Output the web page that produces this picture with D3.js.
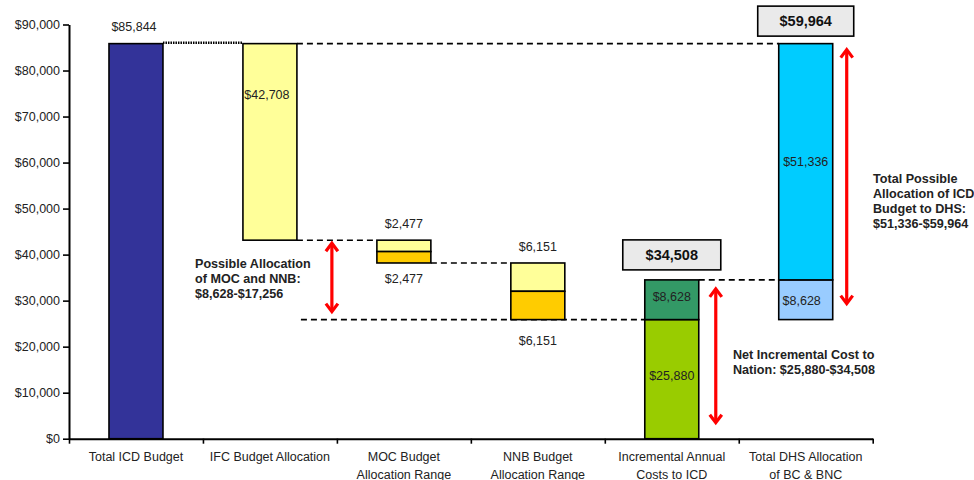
<!DOCTYPE html>
<html>
<head>
<meta charset="utf-8">
<script src="https://cdn.jsdelivr.net/npm/d3@7"></script>
<style>
  body { margin: 0; background: #fff; }
  svg text { font-family: Arial, "Liberation Sans", sans-serif; }
</style>
</head>
<body>
<svg id="chart" width="974" height="480"></svg>
<script>
// category labels (one entry per line)
var categories = [
  ["Total ICD Budget"],
  ["IFC Budget Allocation"],
  ["MOC Budget", "Allocation Range"],
  ["NNB Budget", "Allocation Range"],
  ["Incremental Annual", "Costs to ICD"],
  ["Total DHS Allocation", "of BC & BNC"]
];

var yTicks = [0, 10000, 20000, 30000, 40000, 50000, 60000, 70000, 80000, 90000];

// values
var icdBudget = 85844;
var ifcAllocation = 42708;
var mocRange = [2477, 2477];        // upper (light), lower (gold)
var nnbRange = [6151, 6151];
var incrementalCosts = [25880, 8628]; // base, increment
var dhsAllocation = [8628, 51336];    // lower, upper
var boxTotals = [34508, 59964];

var svg = d3.select("#chart");
var fmt = function(d) { return "$" + d3.format(",")(d); };

var y = d3.scaleLinear().domain([0, 90000]).range([438.7, 24.5]);
var x = d3.scaleBand()
    .domain(d3.range(categories.length))
    .range([69, 872.7])
    .paddingInner(0.597)
    .paddingOuter(0.2985);
var xEdge = d3.scaleLinear().domain([0, categories.length]).range([69, 872.7]);

// build the stacked segments of the waterfall
var ifcBase = icdBudget - ifcAllocation;
var mocBase = ifcBase - mocRange[0] - mocRange[1];
var nnbBase = mocBase - nnbRange[0] - nnbRange[1];
var segments = [
  { c: 0, lo: 0, hi: icdBudget, fill: "#333399" },
  { c: 1, lo: ifcBase, hi: icdBudget, fill: "#FFFF99" },
  { c: 2, lo: ifcBase - mocRange[0], hi: ifcBase, fill: "#FFFF99" },
  { c: 2, lo: mocBase, hi: ifcBase - mocRange[0], fill: "#FFCC00" },
  { c: 3, lo: mocBase - nnbRange[0], hi: mocBase, fill: "#FFFF99" },
  { c: 3, lo: nnbBase, hi: mocBase - nnbRange[0], fill: "#FFCC00" },
  { c: 4, lo: 0, hi: incrementalCosts[0], fill: "#99CC00" },
  { c: 4, lo: incrementalCosts[0], hi: incrementalCosts[0] + incrementalCosts[1], fill: "#339966" },
  { c: 5, lo: incrementalCosts[0], hi: incrementalCosts[0] + dhsAllocation[0], fill: "#99CCFF" },
  { c: 5, lo: incrementalCosts[0] + dhsAllocation[0], hi: icdBudget, fill: "#00CCFF" }
];

// dashed connectors (drawn under the bars)
var bw = x.bandwidth();
var connectors = [
  { v: icdBudget, x1: x(1) + bw, x2: x(5) },
  { v: ifcBase, x1: x(1) + bw, x2: x(2) },
  { v: mocBase, x1: x(2) + bw, x2: x(3) },
  { v: nnbBase, x1: x(1) + bw + 4, x2: x(4) },
  { v: incrementalCosts[0] + incrementalCosts[1], x1: x(4) + bw, x2: x(5) }
];
svg.append("g").selectAll("line")
  .data(connectors).enter().append("line")
    .attr("x1", function(d) { return d.x1; })
    .attr("x2", function(d) { return d.x2; })
    .attr("y1", function(d) { return y(d.v); })
    .attr("y2", function(d) { return y(d.v); })
    .attr("stroke", "#000")
    .attr("stroke-width", 1.6)
    .attr("stroke-dasharray", "6,4");

// dotted link between first two bars
svg.append("line")
    .attr("x1", x(0) + bw).attr("x2", x(1))
    .attr("y1", y(icdBudget) - 1).attr("y2", y(icdBudget) - 1)
    .attr("stroke", "#000").attr("stroke-width", 2.5)
    .attr("stroke-dasharray", "1.5,1");

svg.append("g").selectAll("rect")
  .data(segments).enter().append("rect")
    .attr("x", function(d) { return x(d.c); })
    .attr("width", bw)
    .attr("y", function(d) { return y(d.hi); })
    .attr("height", function(d) { return y(d.lo) - y(d.hi); })
    .attr("fill", function(d) { return d.fill; })
    .attr("stroke", "#000")
    .attr("stroke-width", 1.6);

// axes
var yAxis = svg.append("g")
    .attr("transform", "translate(69,0)")
    .call(d3.axisLeft(y).tickValues(yTicks).tickFormat(fmt).tickSize(6).tickSizeOuter(0).tickPadding(3));
var xAxis = svg.append("g")
    .attr("transform", "translate(0," + y(0) + ")")
    .call(d3.axisBottom(xEdge).tickValues(d3.range(categories.length + 1)).tickFormat("").tickSize(5).tickSizeOuter(0));
[yAxis, xAxis].forEach(function(a) {
  a.select(".domain").attr("stroke", "#000").attr("stroke-width", 2);
  a.selectAll(".tick line").attr("stroke", "#000").attr("stroke-width", 1.6);
});
yAxis.selectAll("text").attr("font-size", 12.5).attr("fill", "#222");

// category labels
var catG = svg.append("g").selectAll("text")
  .data(categories).enter().append("text")
    .attr("x", function(d, i) { return x(i) + bw / 2; })
    .attr("y", 461)
    .attr("text-anchor", "middle")
    .attr("font-size", 12.5)
    .attr("fill", "#222");
catG.selectAll("tspan")
  .data(function(d) { return d; }).enter().append("tspan")
    .attr("x", function() { return d3.select(this.parentNode).attr("x"); })
    .attr("dy", function(d, i) { return i === 0 ? 0 : 17.5; })
    .text(function(d) { return d; });

// value labels
var valueLabels = [
  { c: 0, v: icdBudget, dy: -13, t: icdBudget, dx: -2 },
  { c: 1, v: icdBudget, dy: 55, t: ifcAllocation, dx: -3 },
  { c: 2, v: ifcBase, dy: -12, t: mocRange[0] },
  { c: 2, v: mocBase, dy: 20, t: mocRange[1] },
  { c: 3, v: mocBase, dy: -12, t: nnbRange[0] },
  { c: 3, v: nnbBase, dy: 25, t: nnbRange[1] },
  { c: 4, v: incrementalCosts[0] + incrementalCosts[1] / 2, dy: 1, t: incrementalCosts[1] },
  { c: 4, v: incrementalCosts[0] / 2, dy: 1, t: incrementalCosts[0] },
  { c: 5, v: incrementalCosts[0] + dhsAllocation[0] / 2, dy: 5, t: dhsAllocation[0], dx: -4 },
  { c: 5, v: icdBudget - dhsAllocation[1] / 2, dy: 4, t: dhsAllocation[1] }
];
svg.append("g").selectAll("text")
  .data(valueLabels).enter().append("text")
    .attr("x", function(d) { return x(d.c) + bw / 2 + (d.dx || 0); })
    .attr("y", function(d) { return y(d.v) + d.dy; })
    .attr("text-anchor", "middle")
    .attr("font-size", 12.5)
    .attr("fill", "#222")
    .text(function(d) { return fmt(d.t); });

// total boxes
var boxes = [
  { c: 4, top: incrementalCosts[0] + incrementalCosts[1], t: boxTotals[0], w: 98, gap: 10 },
  { c: 5, top: icdBudget, t: boxTotals[1], w: 96, gap: 7.5 }
];
var boxG = svg.append("g").selectAll("g")
  .data(boxes).enter().append("g");
boxG.append("rect")
    .attr("x", function(d) { return x(d.c) + bw / 2 - d.w / 2; })
    .attr("y", function(d) { return y(d.top) - d.gap - 30; })
    .attr("width", function(d) { return d.w; })
    .attr("height", 30)
    .attr("fill", "#EAEAEA")
    .attr("stroke", "#000")
    .attr("stroke-width", 1.6);
boxG.append("text")
    .attr("x", function(d) { return x(d.c) + bw / 2; })
    .attr("y", function(d) { return y(d.top) - d.gap - 10; })
    .attr("text-anchor", "middle")
    .attr("font-size", 14.5)
    .attr("font-weight", "bold")
    .attr("fill", "#111")
    .text(function(d) { return fmt(d.t); });

// red double arrows
var arrows = [
  { x: x(2) - 45, lo: nnbBase, hi: ifcBase, padLo: 8, padHi: 3 },
  { x: x(4) + bw + 17, lo: 0, hi: incrementalCosts[0] + incrementalCosts[1], padLo: 16, padHi: 9 },
  { x: x(5) + bw + 14, lo: incrementalCosts[0], hi: icdBudget, padLo: 16, padHi: 6 }
];
var arrG = svg.append("g").selectAll("g")
  .data(arrows).enter().append("g")
    .attr("stroke", "#FF0000")
    .attr("stroke-width", 3.2)
    .attr("fill", "none");
arrG.append("line")
    .attr("x1", function(d) { return d.x; })
    .attr("x2", function(d) { return d.x; })
    .attr("y1", function(d) { return y(d.hi) + d.padHi + 1; })
    .attr("y2", function(d) { return y(d.lo) - d.padLo - 1; });
arrG.append("path")
    .attr("d", function(d) {
      var t = y(d.hi) + d.padHi;
      return "M" + (d.x - 6) + "," + (t + 8) + "L" + d.x + "," + t + "L" + (d.x + 6) + "," + (t + 8);
    });
arrG.append("path")
    .attr("d", function(d) {
      var b = y(d.lo) - d.padLo;
      return "M" + (d.x - 6) + "," + (b - 8) + "L" + d.x + "," + b + "L" + (d.x + 6) + "," + (b - 8);
    });

// annotations
var notes = [
  { x: 195, y: 268, lines: ["Possible Allocation", "of MOC and NNB:", "$8,628-$17,256"] },
  { x: 733, y: 359, lines: ["Net Incremental Cost to", "Nation: $25,880-$34,508"] },
  { x: 873, y: 183, lines: ["Total Possible", "Allocation of ICD", "Budget to DHS:", "$51,336-$59,964"] }
];
var noteG = svg.append("g").selectAll("text")
  .data(notes).enter().append("text")
    .attr("x", function(d) { return d.x; })
    .attr("y", function(d) { return d.y; })
    .attr("font-size", 12.6)
    .attr("font-weight", "bold")
    .attr("fill", "#222");
noteG.selectAll("tspan")
  .data(function(d) { return d.lines; }).enter().append("tspan")
    .attr("x", function() { return d3.select(this.parentNode).attr("x"); })
    .attr("dy", function(d, i) { return i === 0 ? 0 : 15; })
    .text(function(d) { return d; });
</script>
</body>
</html>
